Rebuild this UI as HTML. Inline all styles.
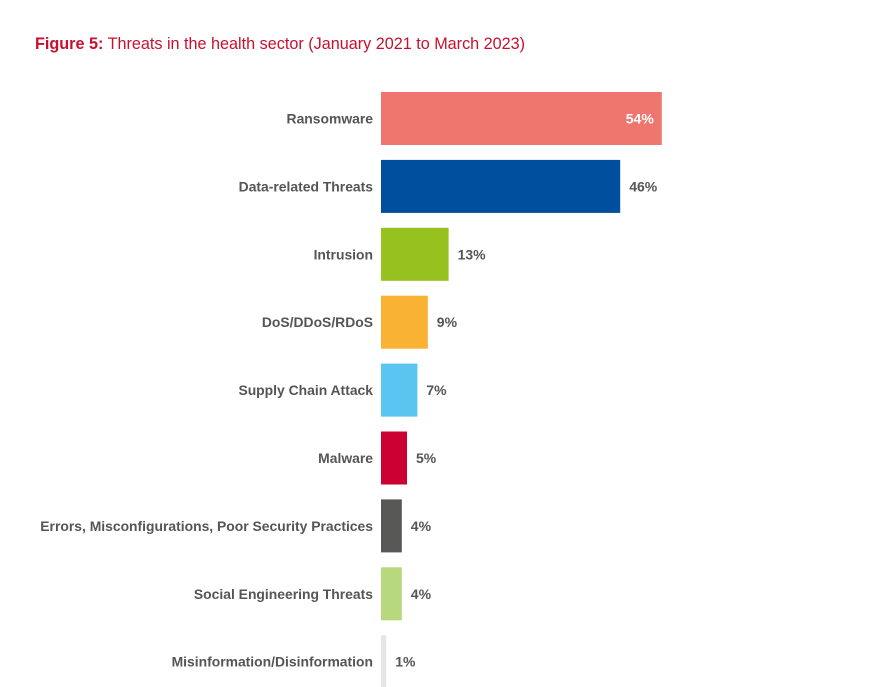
<!DOCTYPE html>
<html><head><meta charset="utf-8"><style>
body{margin:0;background:#fff;width:889px;height:687px;overflow:hidden;font-family:"Liberation Sans",sans-serif}
#title{position:absolute;left:35px;top:35px;font-size:16.2px;color:#c8102e}
#title b{font-weight:bold}
svg{position:absolute;left:0;top:0}
</style></head><body>
<div id="title"><b>Figure 5:</b> Threats in the health sector (January 2021 to March 2023)</div>
<svg id="chart" width="889" height="687"></svg>
<script>
const categories=["Ransomware","Data-related Threats","Intrusion","DoS/DDoS/RDoS","Supply Chain Attack","Malware","Errors, Misconfigurations, Poor Security Practices","Social Engineering Threats","Misinformation/Disinformation"];
const values=[54,46,13,9,7,5,4,4,1];
const colors=["#ee766e","#004f9f","#97c11f","#f9b233","#5bc5f2","#cc0033","#575756","#b7d87c","#e6e6e6"];
const svg=document.getElementById('chart');
const NS="http://www.w3.org/2000/svg";
const x0=381,pxPer=5.2,top0=92,step=67.9,bh=53;
const xs=v=>v*pxPer;
const ys=i=>top0+i*step;
categories.forEach((c,i)=>{
  const y=ys(i),w=xs(values[i]);
  const r=document.createElementNS(NS,'rect');
  r.setAttribute('x',x0);r.setAttribute('y',y);r.setAttribute('width',w);r.setAttribute('height',bh);r.setAttribute('fill',colors[i]);
  
  
  svg.appendChild(r);
  const t=document.createElementNS(NS,'text');
  t.setAttribute('x',373);t.setAttribute('y',y+bh/2+5);t.setAttribute('text-anchor','end');
  t.setAttribute('font-size','13.9');t.setAttribute('font-weight','bold');t.setAttribute('fill','#555');
  t.setAttribute('font-family','Liberation Sans, sans-serif');
  t.textContent=c;
  
  
  svg.appendChild(t);
  const v=document.createElementNS(NS,'text');
  const inside=i===0;
  v.setAttribute('x',inside?x0+w-8:x0+w+9);v.setAttribute('y',y+bh/2+5);
  v.setAttribute('text-anchor',inside?'end':'start');
  v.setAttribute('font-size','14');v.setAttribute('font-weight','bold');v.setAttribute('fill',inside?'#fff':'#555');
  v.setAttribute('font-family','Liberation Sans, sans-serif');
  v.textContent=values[i]+'%';
  
  
  svg.appendChild(v);
});
</script>
</body></html>
